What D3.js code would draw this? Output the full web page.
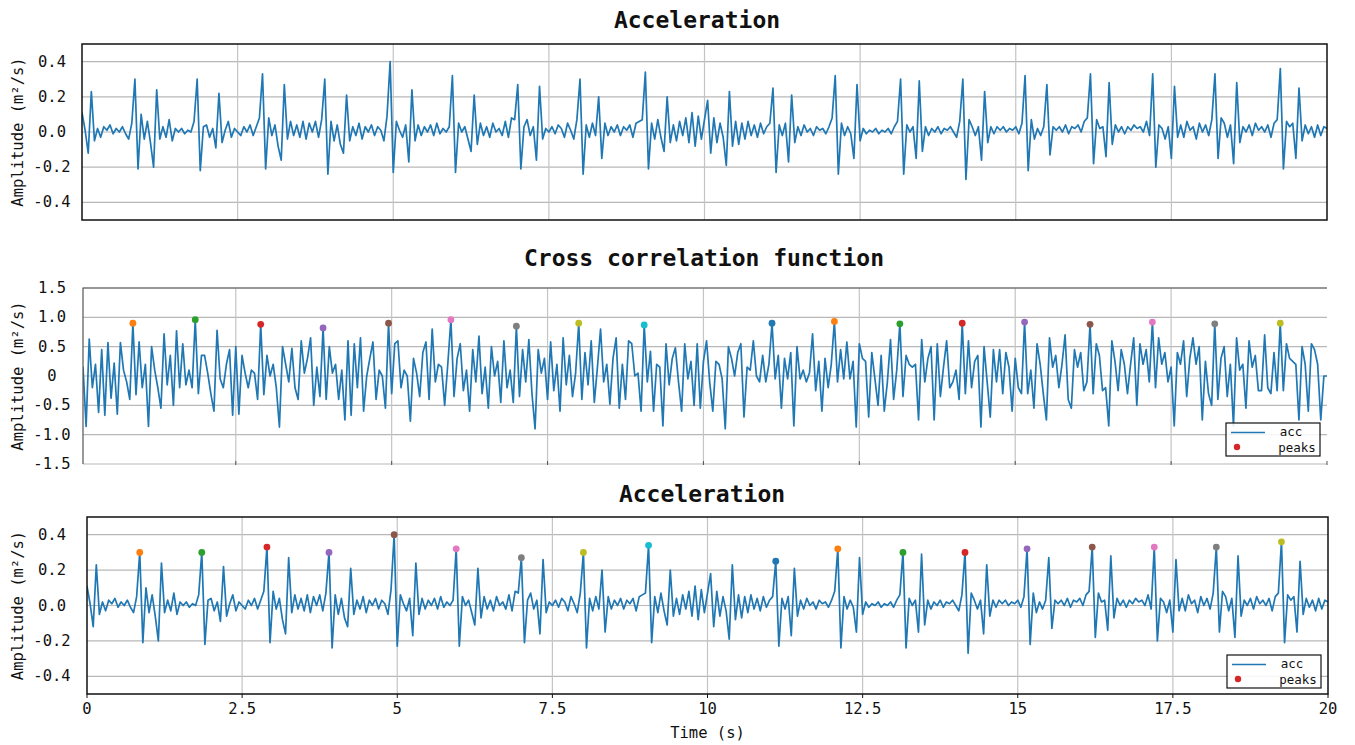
<!DOCTYPE html>
<html>
<head>
<meta charset="utf-8">
<script src="https://cdn.jsdelivr.net/npm/d3@7"></script>
<style>
body { margin: 0; background: #fff; }
text { font-family: "DejaVu Sans Mono", monospace; fill: #111; }
</style>
</head>
<body>
<div id="chart"></div>
<script>
/**
 * Data
 */
// seconds between two samples
var dt = 0.05;
// acceleration, hundredths of m²/s, one row per second
var accValues = [
  11,1,-12,23,-5,2,-3,3,1,4,-1,2,0,3,-1,-4,5,30,-21,10,
  -4,6,-6,-20,24,-4,3,-3,7,-5,2,0,2,-1,1,0,6,30,-22,3,
  4,-3,2,-9,22,-6,1,6,-3,2,0,-2,3,0,4,-2,3,8,33,-21,
  8,-2,4,-8,-16,27,-4,6,-2,4,-3,6,-4,5,0,6,-3,7,30,-24,
  6,-5,4,-7,-12,21,-5,3,-2,5,-4,3,0,4,-2,3,1,-5,9,40,
  -23,6,1,-3,4,-17,24,-5,4,-2,3,0,4,-2,5,-1,2,0,3,32,
  -23,5,0,3,-4,-11,21,-7,5,-2,3,-3,5,0,2,-2,6,-3,8,7,
  27,-21,3,7,-2,3,-16,26,-4,2,0,3,-1,4,2,-3,5,1,-4,7,
  30,-24,4,-3,5,-2,20,-15,5,-2,3,0,4,-2,3,1,4,-3,5,6,
  7,34,-21,5,-4,7,-3,-11,20,-6,4,-5,6,-2,8,-6,11,-8,9,-4,
  7,18,-12,8,-6,5,-3,-19,23,-8,6,-7,5,-4,6,-2,4,-3,5,-1,
  3,5,25,-23,4,-2,5,-17,21,-6,3,-2,4,0,2,-2,3,1,2,-1,
  3,8,32,-24,5,-2,3,-1,-15,27,-5,2,-1,1,0,2,-1,1,0,2,
  -1,3,6,30,-24,4,0,3,-15,29,-11,3,-2,2,0,3,-1,2,1,3,
  0,-3,6,30,-27,7,3,-2,3,-16,23,-6,3,-1,3,1,3,0,2,1,
  3,-1,5,32,-22,7,-4,2,-2,3,27,-13,3,1,3,0,4,-1,3,2,
  4,0,6,8,33,-18,7,2,3,-14,28,-7,4,0,3,-1,3,1,4,2,
  3,0,6,-2,33,-20,4,2,-4,3,-15,26,-3,4,-3,6,1,3,-4,5,
  0,4,-2,7,33,-15,8,5,-3,4,-18,28,-6,3,0,4,-2,5,1,3,
  0,4,-3,5,7,36,-21,6,3,5,-15,25,-5,4,-1,3,-3,4,-2,3,
  2
];
// cross correlation, hundredths, one row per second
var xcorrValues = [
  0,15,-86,63,-20,20,-62,45,-67,57,-38,22,-65,57,10,-10,-40,90,-32,58,
  -20,20,-86,50,10,-20,-55,72,-15,35,-50,77,-20,55,-15,10,-20,96,-30,35,
  35,5,-30,-60,78,-5,-20,20,45,-67,50,-65,35,5,-20,10,5,-40,88,-32,
  35,0,20,-20,-87,50,20,-10,47,-20,-40,60,5,30,65,-50,15,-35,82,-40,
  50,5,20,-40,10,-75,60,-67,55,-20,65,-60,0,30,58,-40,10,0,-55,90,
  -30,55,60,-20,10,0,-77,30,5,-35,40,58,-40,80,-10,20,15,-50,20,96,
  -35,30,55,-25,10,-60,45,-10,68,-30,15,-55,50,0,25,-45,60,-20,10,-45,
  85,-35,45,-10,62,-30,-90,45,5,30,-40,58,-25,20,-60,65,-15,35,-35,5,
  90,-40,40,-15,60,-45,15,80,-10,20,-48,30,65,-55,20,-40,60,55,0,5,
  -60,87,-10,42,-60,20,15,-85,55,-15,30,48,-10,-60,55,-5,25,-50,55,-55,
  25,60,-10,-60,25,20,-5,-90,50,30,0,40,55,-70,15,10,60,0,-10,35,
  -10,20,90,-5,35,-55,30,-5,40,-85,50,-5,10,-10,5,72,-25,25,-60,30,
  -20,20,93,-10,45,-5,58,-5,25,-87,55,30,25,-70,40,-5,-50,35,-60,-10,
  62,-40,10,89,-35,35,20,15,20,-75,62,-10,30,50,-75,55,-35,15,60,-20,
  -10,10,-40,90,-30,60,-20,25,35,-87,50,-10,-70,45,-10,45,-30,40,15,-60,
  30,-20,-30,92,-30,10,-55,55,20,-30,-75,65,15,35,-20,20,70,-40,-55,45,
  15,40,-25,-10,88,-30,55,35,-25,-20,-85,60,25,-25,45,20,-30,20,65,-50,
  55,20,45,-10,92,-20,65,20,40,-10,15,-85,40,20,60,-35,30,65,20,50,
  -75,25,-30,-50,89,-40,30,50,-35,20,-85,65,10,20,-55,60,15,35,-25,-25,
  70,-20,-30,40,-25,90,-25,55,30,25,20,-75,50,20,-60,55,45,20,-75,0,
  0
];
// sample index of each detected peak
var peakIdx = [17,37,58,78,99,119,140,160,181,222,242,263,283,303,324,344,364,385];
// marker colours, matplotlib cycle starting after the line colour
var peakColors = ["#ff7f0e","#2ca02c","#d62728","#9467bd","#8c564b","#e377c2","#7f7f7f","#bcbd22","#17becf",
  "#1f77b4","#ff7f0e","#2ca02c","#d62728","#9467bd","#8c564b","#e377c2","#7f7f7f","#bcbd22"];
// tick values and labels
var timeTicks = [0, 2.5, 5, 7.5, 10, 12.5, 15, 17.5, 20];
var timeLabels = ["0", "2.5", "5", "7.5", "10", "12.5", "15", "17.5", "20"];
var accTicks = [0.4, 0.2, 0, -0.2, -0.4];
var accLabels = ["0.4", "0.2", "0.0", "-0.2", "-0.4"];
var xcorrTicks = [1.5, 1, 0.5, 0, -0.5, -1, -1.5];
var xcorrLabels = ["1.5", "1.0", "0.5", "0", "-0.5", "-1.0", "-1.5"];
var legendItems = ["acc", "peaks"];

// turn hundredths into samples with their times
function toSeries(values) {
  return values.map((v, i) => ({t: i * dt, v: v / 100}));
}
var acc = toSeries(accValues);
var xcorr = toSeries(xcorrValues);

/**
 * Chart
 */
var svgWidth = 1355;
var svgHeight = 745;
var lineColor = "#1f77b4";

var svg = d3.select("#chart")
  .append("svg")
  .attr("width", svgWidth)
  .attr("height", svgHeight);

// three panels, placed to match the original figure
var panels = [
  {title: "Acceleration", titleX: 697, titleY: 20, left: 82, right: 1327, top: 44, bottom: 220,
   xDomain: [0, 20], yDomain: [-0.5, 0.5], data: acc, ticks: accTicks, labels: accLabels,
   peaks: false, frame: "#111", xLabels: false},
  {title: "Cross correlation function", titleX: 704, titleY: 258, left: 83, right: 1327, top: 288, bottom: 464,
   xDomain: [0.05, 20], yDomain: [-1.5, 1.5], data: xcorr, ticks: xcorrTicks, labels: xcorrLabels,
   peaks: true, frame: "open", xLabels: false, legend: [1226, 423]},
  {title: "Acceleration", titleX: 702, titleY: 494, left: 87, right: 1328, top: 517, bottom: 694,
   xDomain: [0, 20], yDomain: [-0.5, 0.5], data: acc, ticks: accTicks, labels: accLabels,
   peaks: true, frame: "#111", xLabels: true, legend: [1227, 655]}
];

function drawPanel(p, ix) {
  var x = d3.scaleLinear().domain(p.xDomain).range([p.left, p.right]);
  var y = d3.scaleLinear().domain(p.yDomain).range([p.bottom, p.top]);
  var g = svg.append("g").attr("id", "panel" + ix);

  // clip so the line stays in the axes
  g.append("clipPath").attr("id", "clip" + ix)
    .append("rect")
    .attr("x", p.left).attr("y", p.top)
    .attr("width", p.right - p.left).attr("height", p.bottom - p.top);

  // grid
  g.selectAll(".hgrid").data(p.ticks).enter().append("line")
    .attr("x1", p.left).attr("x2", p.right)
    .attr("y1", d => y(d)).attr("y2", d => y(d))
    .attr("stroke", "#b8b8b8").attr("stroke-width", 1.2);
  g.selectAll(".vgrid").data(timeTicks.filter(d => d > p.xDomain[0] && d < 20)).enter().append("line")
    .attr("x1", d => x(d)).attr("x2", d => x(d))
    .attr("y1", p.top).attr("y2", p.bottom)
    .attr("stroke", "#c4c4c4").attr("stroke-width", 1.2);

  // signal
  var line = d3.line().x(d => x(d.t)).y(d => y(d.v));
  g.append("path")
    .datum(p.data)
    .attr("clip-path", `url(#clip${ix})`)
    .attr("d", line)
    .attr("fill", "none")
    .attr("stroke", lineColor)
    .attr("stroke-width", 1.7)
    .attr("stroke-linejoin", "round");

  // peak markers
  if (p.peaks) {
    g.selectAll(".peak").data(peakIdx).enter().append("circle")
      .attr("cx", d => x(p.data[d].t))
      .attr("cy", d => y(p.data[d].v))
      .attr("r", 3.4)
      .attr("fill", (d, i) => peakColors[i]);
  }

  // frame
  if (p.frame === "open") {
    g.append("path")
      .attr("d", `M${p.left},${p.bottom}V${p.top}H${p.right}`)
      .attr("fill", "none").attr("stroke", "#555").attr("stroke-width", 1.2);
    g.selectAll(".btick").data(timeTicks.filter(d => d >= p.xDomain[0])).enter().append("line")
      .attr("x1", d => x(d)).attr("x2", d => x(d))
      .attr("y1", p.bottom - 3).attr("y2", p.bottom + 1)
      .attr("stroke", "#555");
  } else {
    g.append("rect")
      .attr("x", p.left).attr("y", p.top)
      .attr("width", p.right - p.left).attr("height", p.bottom - p.top)
      .attr("fill", "none").attr("stroke", p.frame).attr("stroke-width", 1.5);
  }

  // y tick labels
  g.selectAll(".ylab").data(p.ticks).enter().append("text")
    .attr("x", 52)
    .attr("y", d => y(d) + 5)
    .attr("text-anchor", "middle")
    .style("font-size", "15.5px")
    .text((d, i) => p.labels[i]);

  // y axis title
  g.append("text")
    .attr("transform", `translate(23, ${(p.top + p.bottom) / 2}) rotate(-90)`)
    .attr("text-anchor", "middle")
    .style("font-size", "15.5px")
    .text("Amplitude (m²/s)");

  // panel title
  g.append("text")
    .attr("x", p.titleX)
    .attr("y", p.titleY + 8)
    .attr("text-anchor", "middle")
    .style("font-size", "23px")
    .style("font-weight", "bold")
    .text(p.title);

  // x tick labels on the last panel
  if (p.xLabels) {
    g.selectAll(".xtick").data(timeTicks).enter().append("line")
      .attr("x1", d => x(d)).attr("x2", d => x(d))
      .attr("y1", p.bottom).attr("y2", p.bottom + 4)
      .attr("stroke", "#111");
    g.selectAll(".xlab").data(timeTicks).enter().append("text")
      .attr("x", d => x(d))
      .attr("y", p.bottom + 20)
      .attr("text-anchor", "middle")
      .style("font-size", "15.5px")
      .text((d, i) => timeLabels[i]);
    g.append("text")
      .attr("x", (p.left + p.right) / 2)
      .attr("y", p.bottom + 44)
      .attr("text-anchor", "middle")
      .style("font-size", "15.5px")
      .text("Time (s)");
  }

  // legend
  if (p.legend) {
    var lg = g.append("g").attr("transform", `translate(${p.legend[0]}, ${p.legend[1]})`);
    lg.append("rect")
      .attr("width", 94).attr("height", 33)
      .attr("fill", "#fff").attr("fill-opacity", 0.85)
      .attr("stroke", "#111").attr("stroke-width", 1.2);
    lg.append("line")
      .attr("x1", 5).attr("x2", 39).attr("y1", 9.5).attr("y2", 9.5)
      .attr("stroke", lineColor).attr("stroke-width", 1.7);
    lg.append("circle")
      .attr("cx", 11).attr("cy", 24).attr("r", 3.2)
      .attr("fill", "#d62728");
    lg.selectAll(".ltext").data(legendItems).enter().append("text")
      .attr("x", (d, i) => i === 0 ? 65 : 71)
      .attr("y", (d, i) => i === 0 ? 13 : 29)
      .attr("text-anchor", "middle")
      .style("font-size", "12.5px")
      .text(d => d);
  }
}

panels.forEach(drawPanel);
</script>
</body>
</html>
